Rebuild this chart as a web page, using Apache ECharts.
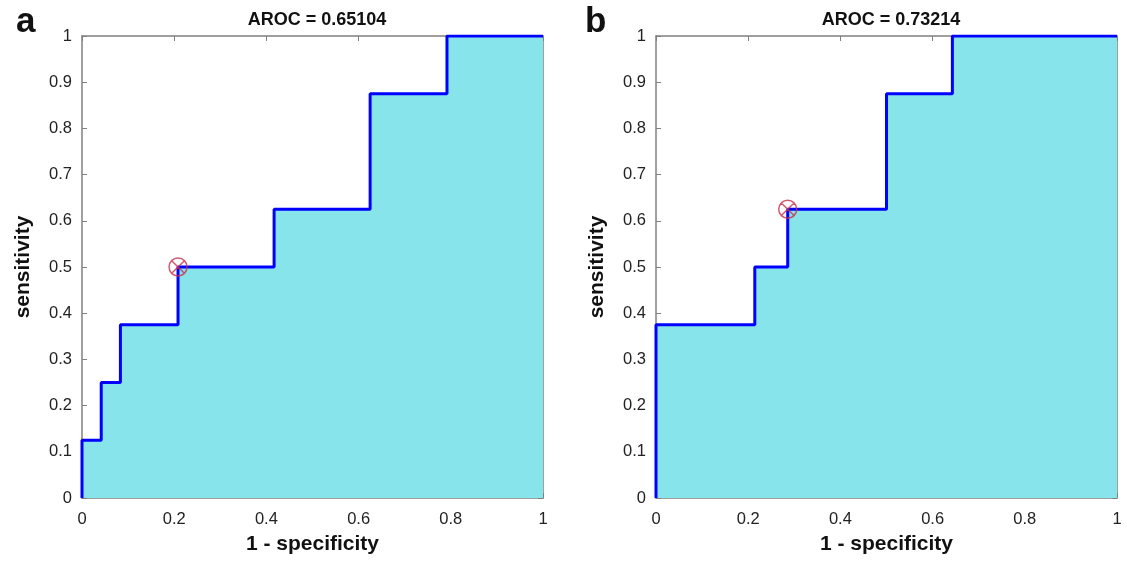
<!DOCTYPE html>
<html><head><meta charset="utf-8">
<script src="https://cdn.jsdelivr.net/npm/echarts@6/dist/echarts.min.js"></script>
<style>html,body{margin:0;padding:0;background:#fff}#c{width:1127px;height:564px}</style>
</head><body><div id="c"></div>
<script>
// Panel a ROC curve (1 - specificity, sensitivity)
const rocA = [[0,0],[0,0.125],[0.0417,0.125],[0.0417,0.25],[0.0833,0.25],[0.0833,0.375],[0.2083,0.375],[0.2083,0.5],[0.4167,0.5],[0.4167,0.625],[0.625,0.625],[0.625,0.875],[0.7917,0.875],[0.7917,1],[1,1]];
const optA = [[0.2083,0.5]];
const titleA = 'AROC = 0.65104';
// Panel b ROC curve
const rocB = [[0,0],[0,0.375],[0.2143,0.375],[0.2143,0.5],[0.2857,0.5],[0.2857,0.625],[0.5,0.625],[0.5,0.875],[0.6429,0.875],[0.6429,1],[1,1]];
const optB = [[0.2857,0.625]];
const titleB = 'AROC = 0.73214';
const panelLetters = ['a','b'];
const xName = '1 - specificity';
const yName = 'sensitivity';

const FONT = 'Liberation Sans, Arial, sans-serif';
const chart = echarts.init(document.getElementById('c'));
const grids = [{left:82, top:36, width:461, height:462}, {left:656, top:36, width:461, height:462}];
const axisLineStyle = {lineStyle:{color:'#808080', width:1.5}};
const tickStyle = {show:true, inside:true, length:5, lineStyle:{color:'#808080'}};
const xAxes = [], yAxes = [];
grids.forEach((g,i)=>{
  xAxes.push({gridIndex:i, type:'value', min:0, max:1, interval:0.2, position:'bottom',
    name:xName, nameLocation:'middle', nameGap:36,
    nameTextStyle:{fontFamily:FONT, fontWeight:'bold', fontSize:21, color:'#111'},
    axisLine:Object.assign({show:true, onZero:false}, axisLineStyle), axisTick:tickStyle, splitLine:{show:false},
    axisLabel:{fontFamily:FONT, fontSize:16.5, color:'#222', margin:13}});
  xAxes.push({gridIndex:i, type:'value', min:0, max:1, interval:0.2, position:'top',
    axisLine:Object.assign({show:true, onZero:false}, axisLineStyle), axisTick:tickStyle, splitLine:{show:false},
    axisLabel:{show:false}});
  yAxes.push({gridIndex:i, type:'value', min:0, max:1, interval:0.1, position:'left',
    name:yName, nameLocation:'middle', nameGap:48,
    nameTextStyle:{fontFamily:FONT, fontWeight:'bold', fontSize:21, color:'#111'},
    axisLine:Object.assign({show:true, onZero:false}, axisLineStyle), axisTick:tickStyle, splitLine:{show:false},
    axisLabel:{fontFamily:FONT, fontSize:16.5, color:'#222', margin:10}});
  yAxes.push({gridIndex:i, type:'value', min:0, max:1, interval:0.1, position:'right',
    axisLine:Object.assign({show:true, onZero:false}, axisLineStyle), axisTick:tickStyle, splitLine:{show:false},
    axisLabel:{show:false}});
});
const marker = 'path://M0,10 A10,10 0 1,1 20,10 A10,10 0 1,1 0,10 Z M2.4,2.4 L17.6,17.6 M17.6,2.4 L2.4,17.6';
function curve(data, i){
  return {type:'line', xAxisIndex:2*i, yAxisIndex:2*i, data:data, showSymbol:false, symbol:'none',
    lineStyle:{color:'#0000ff', width:3}, areaStyle:{color:'#86E4EA', opacity:1}, z:2, silent:true};
}
function pt(data, i){
  return {type:'scatter', xAxisIndex:2*i, yAxisIndex:2*i, data:data, symbol:marker, symbolSize:18,
    itemStyle:{color:'rgba(0,0,0,0)', borderColor:'#c8324a', borderWidth:1.5}, z:5, silent:true};
}
chart.setOption({
  animation:false,
  backgroundColor:'#fff',
  title:[
    {text:titleA, left:312, top:6, textAlign:'center', textStyle:{fontFamily:FONT, fontWeight:'bold', fontSize:18, color:'#111'}},
    {text:titleB, left:886, top:6, textAlign:'center', textStyle:{fontFamily:FONT, fontWeight:'bold', fontSize:18, color:'#111'}},
    {text:panelLetters[0], left:11, top:0, textStyle:{fontFamily:FONT, fontWeight:'bold', fontSize:35, color:'#111'}},
    {text:panelLetters[1], left:580, top:0, textStyle:{fontFamily:FONT, fontWeight:'bold', fontSize:35, color:'#111'}}
  ],
  grid:grids,
  xAxis:xAxes,
  yAxis:yAxes,
  series:[curve(rocA,0), pt(optA,0), curve(rocB,1), pt(optB,1)]
});
</script></body></html>
